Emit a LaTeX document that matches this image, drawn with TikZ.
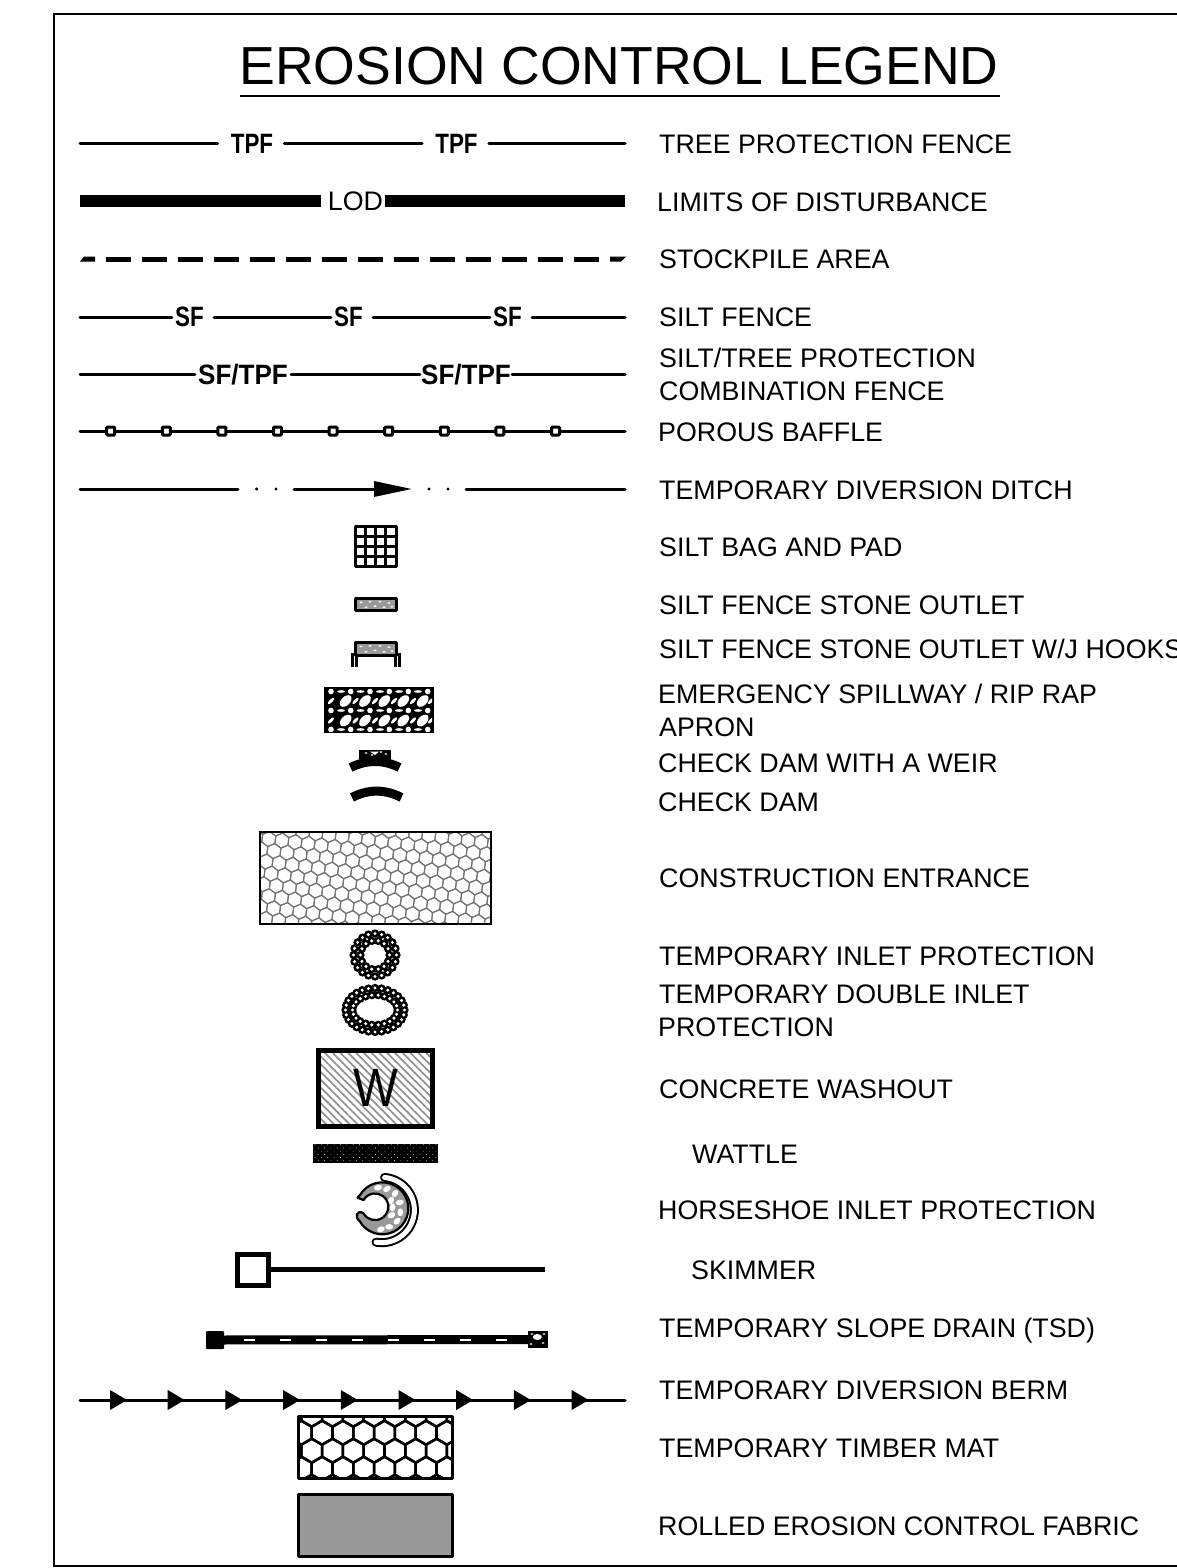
\documentclass[tikz,border=0pt]{standalone}
\usepackage{fontspec}
\setmainfont{Liberation Sans}
\usepackage{tikz}
\usetikzlibrary{patterns.meta}
\newcommand{\cad}[2]{\scalebox{#1}[1]{#2}}
\newcommand{\hexcell}[3]{\draw (#1,#2)+(30:#3) -- +(90:#3) -- +(150:#3) -- +(210:#3) -- +(270:#3) -- +(330:#3) -- cycle;}
\newcommand{\stonebox}[2]{
  \draw[boxline,fill=stonegray] (355,#1) rectangle (396,#2);
  \foreach \sx/\sy in {361/.35,366/.75,370/.3,375/.65,380/.3,384/.75,389/.4,392/.7}
    \fill[white] ({\sx},{#1+(#2-#1)*\sy}) ellipse (1.7 and .9);
}
\newcommand{\beadring}[3]{
  \foreach \a in {1,...,#3}
    \fill[black] ({#1*cos(\a*360/#3)+375},{#2*sin(\a*360/#3)+\ringy}) circle (4.2);
}
\newcommand{\beaddots}[3]{
  \foreach \a in {1,...,#3}
    \fill[white] ({#1*cos(\a*360/#3)+375},{#2*sin(\a*360/#3)+\ringy}) circle (1.7);
}
\newcommand{\horseshoepath}{(359.8,1195.3) arc[start angle=210,end angle=510,radius=26] .. controls (354,1217) and (357,1209) .. (363.5,1213.4) arc[start angle=150,end angle=-150,radius=13.3] .. controls (358,1197) and (355,1199) .. cycle}
\definecolor{stonegray}{HTML}{999999}
\begin{document}
\begin{tikzpicture}[x=1pt,y=-1pt]
  \tikzstyle{every node}=[inner sep=0pt,text=black]
  \tikzstyle{lbl}=[anchor=base west,font=\fontsize{26.8}{26.8}\selectfont]
  \tikzstyle{cadtext}=[font=\bfseries\fontsize{28}{28}\selectfont,text depth=0pt]
  \tikzstyle{fence}=[line width=3pt,line cap=round]
  \tikzstyle{boxline}=[line width=3pt,line join=round]
  \tikzstyle{baffle}=[draw,fill=white,line width=3pt,rounded corners=1pt,minimum size=8pt]
  \tikzstyle{damarc}=[line width=9pt]
  \useasboundingbox (0,0) rectangle (1177,1568);

  \draw[line width=2pt] (1177,14) -- (54,14) -- (54,1566) -- (1177,1566);
  \node[anchor=base,font=\fontsize{53.6}{53.6}\selectfont] (title) at (619,85) {EROSION CONTROL LEGEND};
  \coordinate (titlea) at (240,96);
  \coordinate (titleb) at (1000,96);
  \draw[line width=1.5pt] (titlea) -- (titleb);

  \coordinate (tpfa) at (80,143.5);
  \coordinate (tpfb) at (625,143.5);
  \node[cadtext] (tpf1) at (252,143.5) {\cad{.8}{TPF}};
  \node[cadtext] (tpf2) at (456.5,143.5) {\cad{.8}{TPF}};
  \draw[fence] (tpfa) -- ([xshift=-13pt]tpf1.west);
  \draw[fence] ([xshift=11pt]tpf1.east) -- ([xshift=-13pt]tpf2.west);
  \draw[fence] ([xshift=11pt]tpf2.east) -- (tpfb);

  \coordinate (loda) at (80,201);
  \coordinate (lodb) at (625,201);
  \node[font=\fontsize{26.8}{26.8}\selectfont,text depth=0pt] (lod) at (355.5,201) {LOD};
  \draw[line width=12pt] (loda) -- ([xshift=-7pt]lod.west);
  \draw[line width=12pt] ([xshift=2pt]lod.east) -- (lodb);

  \foreach \i in {0,...,13}
    \draw[line width=5pt] ({106+36*\i},259) -- ++(25,0);
  \fill (80,261.5) -- (84,256.5) -- (95,256.5) -- (95,261.5) -- cycle;
  \fill (610,261.5) -- (610,256.5) -- (626,256.5) -- (621,261.5) -- cycle;

  \coordinate (sfa) at (80,317);
  \coordinate (sfb) at (625,317);
  \node[cadtext] (sf1) at (189.5,317) {\cad{.8}{SF}};
  \node[cadtext] (sf2) at (348.5,317) {\cad{.8}{SF}};
  \node[cadtext] (sf3) at (507.5,317) {\cad{.8}{SF}};
  \draw[fence] (sfa) -- ([xshift=-3pt]sf1.west);
  \draw[fence] ([xshift=10pt]sf1.east) -- ([xshift=-3pt]sf2.west);
  \draw[fence] ([xshift=10pt]sf2.east) -- ([xshift=-3pt]sf3.west);
  \draw[fence] ([xshift=10pt]sf3.east) -- (sfb);

  \coordinate (combia) at (80,374);
  \coordinate (combib) at (625,374);
  \node[cadtext,minimum width=96pt] (combi1) at (243,374) {\cad{.93}{SF/TPF}};
  \node[cadtext,minimum width=92pt] (combi2) at (466,374) {\cad{.93}{SF/TPF}};
  \draw[fence] (combia) -- (combi1);
  \draw[fence] (combi1) -- (combi2);
  \draw[fence] (combi2) -- (combib);

  \coordinate (bafflea) at (80,431);
  \coordinate (baffleb) at (625,431);
  \draw[fence] (bafflea) -- (baffleb);
  \foreach \i in {0,...,8}
    \node[baffle] (baffle\i) at ({110.7+55.6*\i},431) {};

  \coordinate (ditcha) at (80,489);
  \coordinate (ditchb) at (238,489);
  \coordinate (ditchc) at (294,489);
  \coordinate (ditchd) at (380,489);
  \coordinate (ditche) at (466,489);
  \coordinate (ditchf) at (625,489);
  \draw[fence] (ditcha) -- (ditchb);
  \draw[fence] (ditchc) -- (ditchd);
  \draw[fence] (ditche) -- (ditchf);
  \fill (374,481) -- (411.5,489) -- (374,497) -- cycle;
  \foreach \x in {256.6,276,429,448}
    \fill (\x,489) circle (1.7);

  \draw[boxline] (355.5,526.5) rectangle (396,566.5);
  \foreach \t in {1,2,3} {
    \draw[line width=2.5pt] ({355.5+10*\t},526.5) -- ({355.5+10*\t},566.5);
    \draw[line width=2.5pt] (355.5,{526.5+10*\t}) -- (396,{526.5+10*\t});
  }

  \stonebox{598}{610.5}
  \stonebox{642}{655}
  \draw[boxline] (356,655) -- (356,666.5);
  \draw[boxline] (352,653) -- (352,666.5);
  \draw[boxline] (395,655) -- (395,666.5);
  \draw[boxline] (399,653) -- (399,666.5);

  \fill (324.3,686.7) rectangle (433.7,733);
  \begin{scope}
    \clip (326,688.5) rectangle (432,731.2);
    \foreach \y in {691.5,710.5,729.5} {
      \foreach \x in {331,350.7,370,389.3,408.3,427.7}
        \fill[white] (\x,\y) circle (2.8);
      \foreach \x in {341,360.5,380,399,418}
        \fill[white] (\x,\y) ellipse (4 and 1.3);
    }
    \foreach \y in {701,720.5} {
      \foreach \x in {345.7,365,384.3,403.3,422.7}
        \fill[white,rotate around={45:(\x,\y)}] (\x,\y) ellipse (7 and 4.4);
      \foreach \x in {331,355.5,375,394,413,431}
        \fill[white,rotate around={45:(\x,\y)}] (\x,\y) ellipse (4 and 1.6);
    }
  \end{scope}

  \fill (359.3,750) rectangle (391,759);
  \foreach \x/\y in {366/753,372/755,381/752,386/754}
    \fill[white] (\x,\y) ellipse (1.6 and .8);
  \fill[white] (370,751.5) -- (379,751.5) -- (375,755) -- cycle;
  \draw[damarc] (350.5,767.5) .. controls (367,759.5) and (383,759.5) .. (399.5,767.5);
  \draw[damarc] (352,797.5) .. controls (368,789) and (385,789) .. (401.5,797.5);

  \begin{scope}
    \clip (260,832) rectangle (491,924);
    \begin{scope}[rotate around={-7:(375,878)},line width=1.1pt,draw=black!55]
      \foreach \r in {-1,0,...,10}
        \foreach \c in {-1,0,...,20} {
          \pgfmathsetmacro{\hx}{245+13.2*\c+6.6*mod(\r+2,2)}
          \pgfmathsetmacro{\hy}{818+11.4*\r}
          \hexcell{\hx}{\hy}{7.62}
        }
    \end{scope}
  \end{scope}
  \draw[line width=1.6pt] (260,832) rectangle (491,924);

  \def\ringy{955}
  \beadring{21.5}{21.5}{20}
  \beadring{14.5}{14.5}{14}
  \beaddots{21.5}{21.5}{20}
  \beaddots{14.5}{14.5}{14}
  \def\ringy{1010}
  \beadring{29.5}{22}{28}
  \beadring{22.5}{15}{22}
  \beaddots{29.5}{22}{28}
  \beaddots{22.5}{15}{22}

  \fill[pattern={Lines[angle=-45,distance=5.5pt,line width=1.6pt]},pattern color=black!45] (317,1048) rectangle (434,1128);
  \draw[line width=5pt] (318.5,1050) rectangle (432.5,1126);
  \node[font=\fontsize{54}{54}\selectfont,text depth=0pt] (washout) at (375.5,1088) {\cad{.88}{W}};

  \fill[black] (312.7,1144) rectangle (438.3,1163.3);
  \fill[pattern={Dots[angle=45,distance=4.5pt,radius=.45pt]},pattern color=white] (312.7,1144) rectangle (438.3,1163.3);

  \fill[stonegray] \horseshoepath;
  \foreach \a/\r/\p in {-100/21/10,-75/20/30,-48/20/60,-18/19/10,12/19/90,40/20/40,68/20/0,92/21/20,-5/11/80,35/12/30,-40/12/60}
    \fill[white,rotate around={\p:({381.7+\r*cos(\a)},{1208.3+\r*sin(\a)})}] ({381.7+\r*cos(\a)},{1208.3+\r*sin(\a)}) ellipse (4 and 2.8);
  \draw[line width=2.2pt,line join=round] \horseshoepath;
  \draw[line width=9pt,line cap=round] (381.7,1210)+(-85:32.7) arc[start angle=-85,end angle=100,radius=32.7];
  \draw[line width=5pt,line cap=round,white] (381.7,1210)+(-85:32.7) arc[start angle=-85,end angle=100,radius=32.7];

  \node[draw,line width=5pt,minimum size=31pt] (skimbox) at (252.8,1269.5) {};
  \coordinate (skimend) at (545,1269.5);
  \draw[line width=5pt] (skimbox) -- (skimend);

  \node[fill=black,rounded corners=1pt,minimum size=18pt] (tsda) at (215,1340) {};
  \node[fill=black,minimum width=20pt,minimum height=17.5pt] (tsdb) at (538,1339.5) {};
  \draw[line width=9pt] (tsda) -- (tsdb);
  \foreach \x in {249,285,321,357,393,429,465,501}
    \draw[white,line width=2pt] ({\x-5.5},1339.7) -- ({\x+5.5},1339.7);
  \fill[white] (537.3,1337) ellipse (4.5 and 3);
  \foreach \x/\y in {531/1344,543/1343,544/1334,532/1334}
    \fill[white] (\x,\y) ellipse (1.6 and .8);

  \coordinate (berma) at (80,1400);
  \coordinate (bermb) at (625,1400);
  \draw[fence] (berma) -- (bermb);
  \foreach \i in {0,...,8}
    \fill ({110+57.7*\i},1390) -- ({127+57.7*\i},1400) -- ({110+57.7*\i},1410) -- cycle;

  \begin{scope}
    \clip (298.3,1416) rectangle (452.7,1478.3);
    \begin{scope}[line width=2.5pt]
      \foreach \r in {-1,0,...,3}
        \foreach \c in {-1,0,...,8} {
          \pgfmathsetmacro{\hx}{301.3+20.8*\c+10.4*mod(\r+2,2)}
          \pgfmathsetmacro{\hy}{1432.7+18*\r}
          \hexcell{\hx}{\hy}{12}
        }
    \end{scope}
  \end{scope}
  \draw[boxline] (298.3,1416) rectangle (452.7,1478.3);

  \draw[boxline,fill=stonegray] (298.3,1494.3) rectangle (452.7,1556);

  \node[lbl] (ltpf) at (659,153.5) {TREE PROTECTION FENCE};
  \node[lbl] (llod) at (657,211.5) {LIMITS OF DISTURBANCE};
  \node[lbl] (lstock) at (659,268.5) {STOCKPILE AREA};
  \node[lbl] (lsf) at (659,326.5) {SILT FENCE};
  \node[lbl] (lcombi) at (659,367.5) {SILT/TREE PROTECTION};
  \node[lbl] (lcombib) at (659,400.5) {COMBINATION FENCE};
  \node[lbl] (lbaffle) at (658,441.5) {POROUS BAFFLE};
  \node[lbl] (lditch) at (659,499.5) {TEMPORARY DIVERSION DITCH};
  \node[lbl] (lbag) at (659,556.5) {SILT BAG AND PAD};
  \node[lbl] (loutlet) at (659,614.5) {SILT FENCE STONE OUTLET};
  \node[lbl] (lhooks) at (659,658.5) {SILT FENCE STONE OUTLET W/J HOOKS};
  \node[lbl] (lspill) at (658,703.5) {EMERGENCY SPILLWAY / RIP RAP};
  \node[lbl] (lapron) at (659,736.5) {APRON};
  \node[lbl] (lweir) at (658,772.5) {CHECK DAM WITH A WEIR};
  \node[lbl] (ldam) at (658,811.5) {CHECK DAM};
  \node[lbl] (lentr) at (659,887.5) {CONSTRUCTION ENTRANCE};
  \node[lbl] (linlet) at (659,965.5) {TEMPORARY INLET PROTECTION};
  \node[lbl] (ldouble) at (659,1003.5) {TEMPORARY DOUBLE INLET};
  \node[lbl] (lprot) at (658,1036.5) {PROTECTION};
  \node[lbl] (lwash) at (659,1098.5) {CONCRETE WASHOUT};
  \node[lbl] (lwattle) at (692,1163.5) {WATTLE};
  \node[lbl] (lshoe) at (658,1219.5) {HORSESHOE INLET PROTECTION};
  \node[lbl] (lskim) at (691,1279.5) {SKIMMER};
  \node[lbl] (ltsd) at (659,1337.5) {TEMPORARY SLOPE DRAIN (TSD)};
  \node[lbl] (lberm) at (659,1399.5) {TEMPORARY DIVERSION BERM};
  \node[lbl] (lmat) at (659,1457.5) {TEMPORARY TIMBER MAT};
  \node[lbl] (lfabric) at (658,1535.5) {ROLLED EROSION CONTROL FABRIC};
\end{tikzpicture}
\end{document}
